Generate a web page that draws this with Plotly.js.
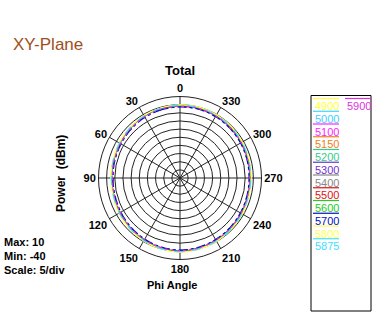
<!DOCTYPE html>
<html><head><meta charset="utf-8">
<script src="https://cdn.plot.ly/plotly-3.0.1.min.js"></script>
<style>html,body{margin:0;padding:0;background:#fff;}#chart{width:374px;height:326px;}</style>
</head><body><div id="chart"></div>
<script>
var phi = [0,15,30,45,60,75,90,105,120,135,150,165,180,195,210,225,240,255,270,285,300,315,330,345];
var angleTicks = [0,30,60,90,120,150,180,210,240,270,300,330];
var freqs = ["4900","5000","5100","5150","5200","5300","5400","5500","5600","5700","5800","5875","5900"];
var colors = ["#ffff33","#40d0ff","#ff22ff","#f08020","#33cc88","#7030d0","#888888","#e01010","#22cc22","#0010c0","#ffff55","#40e0ff","#e030e0"];
var p4900 = [4.7,4.4,4.1,3.4,2.9,2.4,2.2,2.3,3.0,3.6,4.4,4.9,5.3,5.0,4.7,4.2,3.9,3.5,3.5,3.7,3.9,4.3,4.6,4.8];
var p5000 = [4.0,3.9,3.5,2.9,2.3,1.8,1.6,1.8,2.4,3.1,3.8,4.4,4.7,4.5,4.1,3.7,3.3,3.0,2.9,3.1,3.4,3.7,4.0,4.2];
var p5100 = [4.3,4.1,3.7,3.0,2.5,2.0,1.8,1.9,2.6,3.2,4.0,4.5,4.9,4.6,4.3,3.8,3.5,3.1,3.1,3.3,3.5,3.9,4.2,4.4];
var p5150 = [4.1,3.9,3.5,3.0,2.3,1.9,1.6,1.9,2.4,3.1,3.9,4.4,4.8,4.5,4.2,3.7,3.3,3.0,2.9,3.2,3.4,3.8,4.1,4.2];
var p5200 = [4.2,4.0,3.6,3.1,2.4,2.0,1.7,2.0,2.5,3.3,3.9,4.5,4.8,4.7,4.2,3.8,3.4,3.2,3.0,3.2,3.5,3.8,4.1,4.3];
var p5300 = [3.7,3.5,3.1,2.5,1.9,1.5,1.2,1.4,2.0,2.7,3.4,4.0,4.3,4.1,3.7,3.3,2.9,2.6,2.5,2.7,3.0,3.3,3.6,3.8];
var p5400 = [4.3,4.0,3.7,3.1,2.5,2.1,1.8,2.0,2.6,3.3,4.0,4.6,4.9,4.6,4.3,3.9,3.5,3.2,3.1,3.3,3.6,3.9,4.2,4.4];
var p5500 = [4.1,4.0,3.6,2.9,2.4,1.9,1.7,1.8,2.5,3.2,3.8,4.4,4.7,4.6,4.1,3.8,3.4,3.0,3.0,3.1,3.5,3.7,4.0,4.2];
var p5600 = [4.4,4.1,3.7,3.2,2.5,2.2,1.8,2.1,2.6,3.3,4.1,4.7,5.0,4.7,4.4,3.9,3.5,3.3,3.1,3.4,3.6,4.0,4.3,4.5];
var p5700 = [3.6,3.4,3.0,2.4,1.8,1.4,1.1,1.3,1.9,2.6,3.3,3.9,4.2,4.0,3.6,3.2,2.8,2.5,2.4,2.6,2.9,3.2,3.5,3.7];
var p5800 = [4.9,4.6,4.3,3.6,3.1,2.6,2.4,2.5,3.2,3.8,4.6,5.1,5.5,5.2,4.9,4.4,4.1,3.7,3.7,3.9,4.1,4.5,4.8,5.0];
var p5875 = [4.6,4.4,4.0,3.4,2.8,2.4,2.1,2.3,2.9,3.6,4.3,4.9,5.2,5.0,4.6,4.2,3.8,3.5,3.4,3.6,3.9,4.2,4.5,4.7];
var p5900 = [4.0,3.8,3.4,2.8,2.2,1.8,1.5,1.7,2.3,3.0,3.7,4.3,4.6,4.4,4.0,3.6,3.2,2.9,2.8,3.0,3.3,3.6,3.9,4.1];
var series = [p4900,p5000,p5100,p5150,p5200,p5300,p5400,p5500,p5600,p5700,p5800,p5875,p5900];
var dashes = ['solid','dash','dot','dashdot','dash','dot','solid','dash','dot','dashdot','solid','dash','dot'];
var rMin = -40, rMax = 10, rStep = 5;

var W = 374, H = 326;
function px(x){return x/W;}
function py(y){return 1 - y/H;}
var FONT = "Liberation Sans, Arial, sans-serif";

var traces = series.map(function(s,i){
  return {type:'scatterpolar', mode:'lines', r:s.concat([s[0]]), theta:phi.concat([phi[0]]),
    line:{color:colors[i], width:1.2, shape:'spline', dash:dashes[i]}, name:freqs[i], showlegend:false, hoverinfo:'skip'};
});

var cx = 180, cy = 178, R = 81.5;
var annotations = [
  {text:"XY-Plane", x:px(11), y:py(45), xanchor:'left', yanchor:'middle', font:{family:FONT,size:17,color:"#a0501a"}},
  {text:"<b>Total</b>", x:px(180), y:py(71), xanchor:'center', yanchor:'middle', font:{family:FONT,size:13,color:"#000"}},
  {text:"<b>Phi Angle</b>", x:px(172), y:py(285), xanchor:'center', yanchor:'middle', font:{family:FONT,size:11,color:"#000"}},
  {text:"<b>Power  (dBm)</b>", x:px(61), y:py(174), xanchor:'center', yanchor:'middle', textangle:-90, font:{family:FONT,size:12,color:"#000"}},
  {text:"<b>Max: "+rMax+"</b>", x:px(2), y:py(242), xanchor:'left', yanchor:'middle', font:{family:FONT,size:11,color:"#000"}},
  {text:"<b>Min: "+rMin+"</b>", x:px(2), y:py(256), xanchor:'left', yanchor:'middle', font:{family:FONT,size:11,color:"#000"}},
  {text:"<b>Scale: "+rStep+"/div</b>", x:px(2), y:py(270), xanchor:'left', yanchor:'middle', font:{family:FONT,size:11,color:"#000"}}
];
var shapes = [
  {type:'rect', xref:'paper', yref:'paper', x0:px(311), x1:px(371), y0:py(311), y1:py(95.5), line:{color:'#000', width:1}, fillcolor:'rgba(0,0,0,0)'}
];
freqs.forEach(function(f,i){
  var col = i < 12 ? 0 : 1;
  var row = i < 12 ? i : 0;
  var lx = col === 0 ? 313 : 345;
  var ly = 106 + row*12.75;
  annotations.push({text:f, x:px(lx), y:py(ly), xanchor:'left', yanchor:'middle', showarrow:false,
    font:{family:FONT,size:11,color:colors[i]}});
  shapes.push({type:'line', xref:'paper', yref:'paper', x0:px(lx), x1:px(lx+26), y0:py(ly-7.5), y1:py(ly-7.5), line:{color:colors[i], width:1.2}});
});
annotations.forEach(function(a){a.xref='paper'; a.yref='paper'; a.showarrow=false;});

var layout = {
  width:W, height:H, margin:{l:0,r:0,t:0,b:0}, paper_bgcolor:'#fff', showlegend:false,
  polar:{
    domain:{x:[px(cx-R), px(cx+R)], y:[py(cy+R), py(cy-R)]},
    bgcolor:'#fff',
    radialaxis:{range:[rMin,rMax], tick0:rMin, dtick:rStep, showticklabels:false, ticks:'', showline:false, gridcolor:'#222', gridwidth:1},
    angularaxis:{rotation:90, direction:'counterclockwise', tickmode:'array', tickvals:angleTicks, ticktext:angleTicks.map(String), ticks:'',
      showline:true, linecolor:'#222', linewidth:1, gridcolor:'#222', gridwidth:1, tickfont:{family:FONT,size:11,color:'#000', weight:'bold'}}
  },
  annotations:annotations, shapes:shapes
};
Plotly.newPlot('chart', traces, layout, {staticPlot:true, displayModeBar:false});
</script></body></html>
